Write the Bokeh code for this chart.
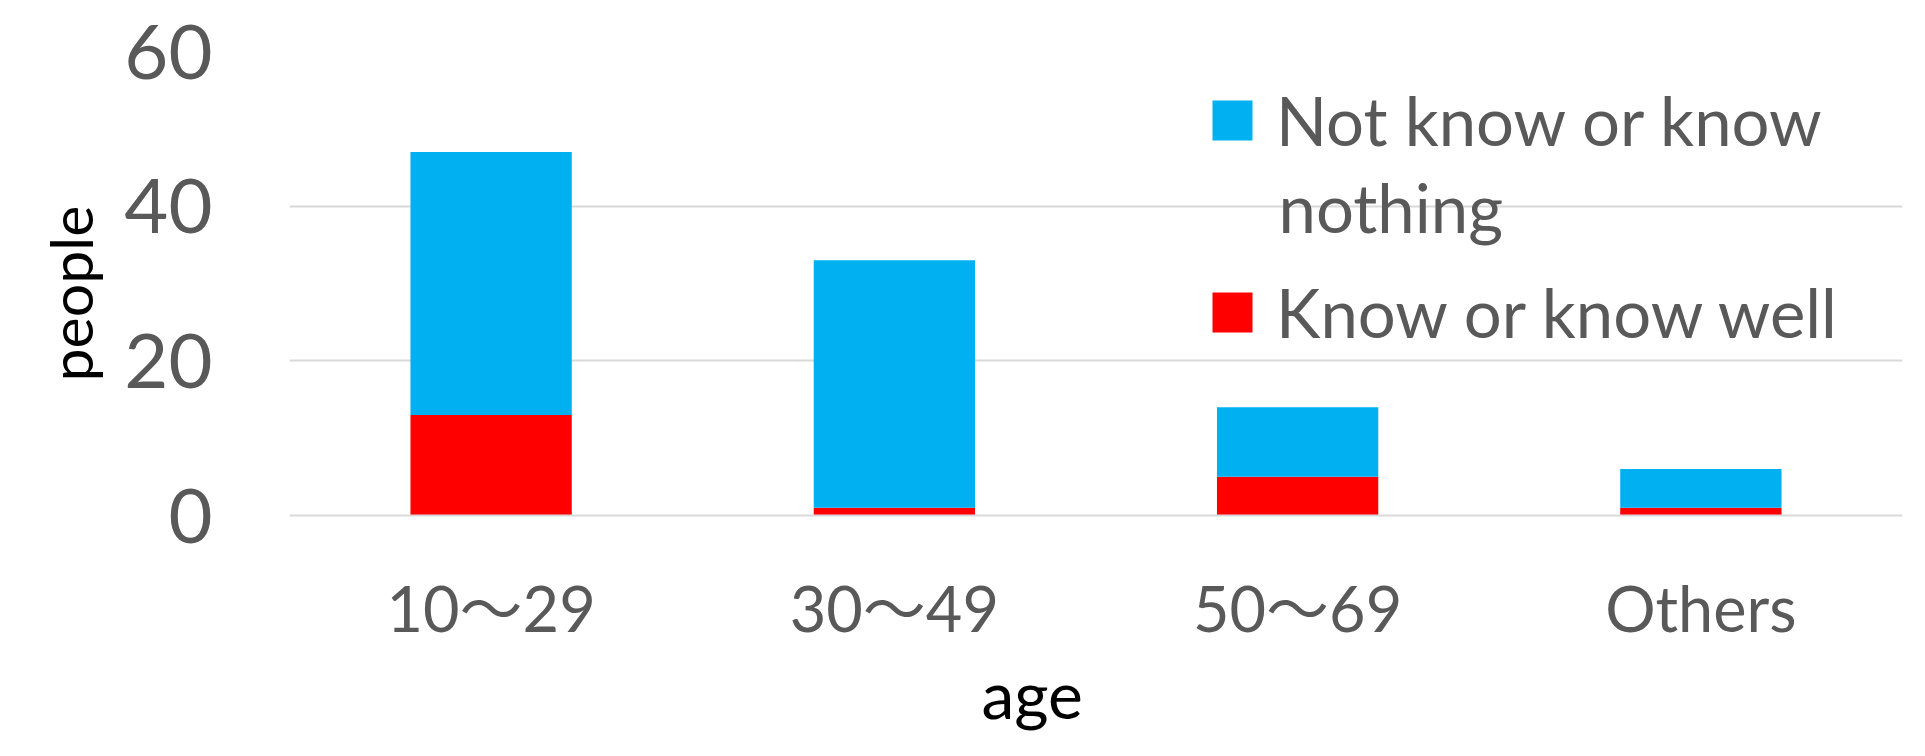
from bokeh.plotting import figure
from bokeh.models import Range1d, FactorRange, FixedTicker, Legend, LegendItem, Label, Title, ColumnDataSource
from bokeh.embed import file_html
from bokeh.resources import INLINE

categories = ["10～29", "30～49", "50～69", "Others"]
know_well = [13, 1, 5, 1]
not_know = [34, 32, 9, 5]
y_ticks = [0, 20, 40, 60]

FONT = "Lato"
GREY = "#595959"

src = ColumnDataSource(dict(cat=categories, know=know_well, notknow=not_know))

p = figure(width=1909, height=740, x_range=FactorRange(*categories), y_range=Range1d(0, 60),
           output_backend="svg", toolbar_location=None,
           min_border_left=289, min_border_right=7, min_border_top=51, min_border_bottom=225)
p.outline_line_color = None
p.background_fill_color = "white"

rs = p.vbar_stack(["know", "notknow"], x="cat", width=0.4, source=src,
                  color=["#FF0000", "#00B0F0"], line_color=None)

# axes
p.yaxis.ticker = FixedTicker(ticks=y_ticks)
p.yaxis.axis_line_color = None
p.yaxis.major_tick_line_color = None
p.yaxis.minor_tick_line_color = None
p.yaxis.major_tick_out = 0
p.yaxis.major_label_standoff = 77
p.yaxis.major_label_text_font = FONT
p.yaxis.major_label_text_font_size = "76px"
p.yaxis.major_label_text_color = GREY

p.xaxis.axis_line_color = "#D9D9D9"
p.xaxis.axis_line_width = 2
p.xaxis.major_tick_line_color = None
p.xaxis.minor_tick_line_color = None
p.xaxis.major_tick_out = 0
p.xaxis.major_label_standoff = 54
p.xaxis.major_label_text_font = "Lato, 'Noto Sans CJK JP'"
p.xaxis.major_label_text_font_size = "63px"
p.xaxis.major_label_text_color = GREY

p.xgrid.grid_line_color = None
p.ygrid.ticker = FixedTicker(ticks=y_ticks)
p.ygrid.grid_line_color = "#D9D9D9"
p.ygrid.grid_line_width = 2

# y axis title as a left-panel title (allows shifting along the axis)
p.add_layout(Title(text="people", align="left", offset=134, standoff=32,
                   text_font=FONT, text_font_size="59px", text_font_style="normal",
                   text_color="black"), "left")

# x axis title (placed as a below-panel title so it is part of the layout)
p.add_layout(Title(text="age", align="left", offset=692, standoff=9,
                   text_font=FONT, text_font_size="66px", text_font_style="normal",
                   text_color="black"), "below")

# legend
legend = Legend(items=[LegendItem(label="Not know or know", renderers=[rs[1]]),
                       LegendItem(label="Know or know well", renderers=[rs[0]])],
                location=(918, 163), orientation="vertical",
                glyph_width=50, glyph_height=50, label_standoff=19,
                label_text_font=FONT, label_text_font_size="67px", label_text_color=GREY,
                padding=0, margin=0, spacing=112,
                border_line_color=None, background_fill_alpha=0)
p.add_layout(legend)
p.add_layout(Label(x=989, y=309, x_units="screen", y_units="screen", text="nothing",
                   text_font=FONT, text_font_size="67px", text_color=GREY,
                   text_align="left", text_baseline="alphabetic"))

open("out.html", "w").write(file_html(p, INLINE))
